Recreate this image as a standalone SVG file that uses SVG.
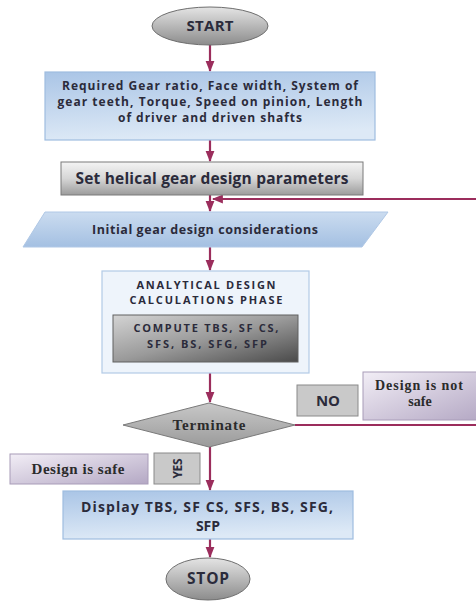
<svg xmlns="http://www.w3.org/2000/svg" width="476" height="602" viewBox="0 0 476 602">
<defs>
<linearGradient id="gBlue" x1="0" y1="0" x2="0.2" y2="1"><stop offset="0" stop-color="#aac5e6"/><stop offset="1" stop-color="#dde9f6"/></linearGradient>
<linearGradient id="gPara" x1="0" y1="0" x2="0" y2="1"><stop offset="0" stop-color="#cbdcf0"/><stop offset="1" stop-color="#a4c0e2"/></linearGradient>
<linearGradient id="gGray" x1="0" y1="0" x2="0" y2="1"><stop offset="0" stop-color="#f4f4f4"/><stop offset="0.5" stop-color="#d6d6d6"/><stop offset="1" stop-color="#9c9c9c"/></linearGradient>
<linearGradient id="gDark" x1="0" y1="0" x2="1" y2="1"><stop offset="0" stop-color="#d4d4d4"/><stop offset="0.5" stop-color="#9a9a9a"/><stop offset="1" stop-color="#4a4a4a"/></linearGradient>
<linearGradient id="gOval" x1="0" y1="0" x2="0" y2="1"><stop offset="0" stop-color="#e4e4e4"/><stop offset="1" stop-color="#8c8c8c"/></linearGradient>
<linearGradient id="gLav" x1="0" y1="0" x2="1" y2="1"><stop offset="0" stop-color="#f2eef6"/><stop offset="1" stop-color="#b4a8c4"/></linearGradient>
<linearGradient id="gDia" x1="0" y1="0" x2="0" y2="1"><stop offset="0" stop-color="#c8c8c8"/><stop offset="1" stop-color="#9a9a9a"/></linearGradient>
<marker id="ah" viewBox="0 0 10 10" refX="9" refY="5" markerWidth="5" markerHeight="5" orient="auto"><path d="M0,1 L10,5 L0,9 Z" fill="#9b2d5c"/></marker>
</defs>
<style>
.ln{stroke:#9b2d5c;stroke-width:2.2;fill:none}
.cal{font-family:"Open Sans","Liberation Sans",sans-serif;font-weight:700;fill:#2b2b3b;text-anchor:middle}
.ser{font-family:"Liberation Serif","DejaVu Serif",serif;font-weight:700;fill:#2b2b2b;text-anchor:middle}
</style>
<g id="connectors">
<line class="ln" x1="210" y1="45" x2="210" y2="71" marker-end="url(#ah)"/>
<line class="ln" x1="210" y1="140" x2="210" y2="161" marker-end="url(#ah)"/>
<line class="ln" x1="210" y1="195" x2="210" y2="211" marker-end="url(#ah)"/>
<polyline class="ln" points="295,425 480,425 480,199 213,199" marker-end="url(#ah)"/>
<line class="ln" x1="210" y1="247" x2="210" y2="270" marker-end="url(#ah)"/>
<line class="ln" x1="210" y1="373" x2="210" y2="402" marker-end="url(#ah)"/>
<line class="ln" x1="210" y1="447" x2="210" y2="490" marker-end="url(#ah)"/>
<line class="ln" x1="210" y1="539" x2="210" y2="557" marker-end="url(#ah)"/>
</g>
<g id="start">
<ellipse cx="210" cy="26" rx="58" ry="19" fill="url(#gOval)" stroke="#6e6e6e" stroke-width="1"/>
<text class="cal" x="210" y="31" font-size="15" textLength="47">START</text>
</g>
<g id="inputs">
<rect x="45" y="72" width="330" height="68" fill="url(#gBlue)" stroke="#9fbde0" stroke-width="1.2"/>
<text class="cal" font-size="12"><tspan x="210" y="90" textLength="296">Required Gear ratio, Face width, System of</tspan><tspan x="210" y="106" textLength="305">gear teeth, Torque, Speed on pinion, Length</tspan><tspan x="210" y="122" textLength="184">of driver and driven shafts</tspan></text>
</g>
<g id="setparams">
<rect x="61" y="162" width="302" height="33" fill="url(#gGray)" stroke="#7a7a7a" stroke-width="1"/>
<text class="cal" x="212" y="184" font-size="15.5" font-weight="600" fill="#222" textLength="273">Set helical gear design parameters</text>
</g>
<g id="initial">
<polygon points="45,212 388,212 362,247 23,247" fill="url(#gPara)" stroke="#b0c8e6" stroke-width="1"/>
<text class="cal" x="205" y="234" font-size="12.5" textLength="226">Initial gear design considerations</text>
</g>
<g id="analytical">
<rect x="102" y="271" width="207" height="102" fill="#eef4fb" stroke="#b2cae6" stroke-width="1.2"/>
<text class="cal" font-size="11" fill="#3a3a44"><tspan x="206" y="289" textLength="139">ANALYTICAL DESIGN</tspan><tspan x="206" y="303.5" textLength="153">CALCULATIONS PHASE</tspan></text>
<g id="compute">
<rect x="113" y="315" width="185" height="47" fill="url(#gDark)" stroke="#606060" stroke-width="1"/>
<text class="cal" font-size="11" fill="#2a2a3a"><tspan x="206" y="332" textLength="145">COMPUTE TBS, SF CS,</tspan><tspan x="207" y="347.5" textLength="120">SFS, BS, SFG, SFP</tspan></text>
</g>
</g>
<g id="terminate">
<polygon points="209,403 295,425 209,447 123,425" fill="url(#gDia)" stroke="#7a7a7a" stroke-width="1"/>
<text class="ser" x="209" y="430" font-size="15" textLength="73">Terminate</text>
</g>
<g id="no">
<rect x="297" y="385" width="61" height="31" fill="#c9c9c9" stroke="#8a8a8a" stroke-width="1"/>
<text class="cal" x="328" y="406" font-size="15">NO</text>
</g>
<g id="notsafe">
<rect x="363" y="372" width="118" height="48" fill="url(#gLav)" stroke="#a89cb8" stroke-width="1"/>
<text class="ser" font-size="14"><tspan x="419" y="390" textLength="88">Design is not</tspan><tspan x="420" y="406">safe</tspan></text>
</g>
<g id="safe">
<rect x="10" y="454" width="138" height="30" fill="url(#gLav)" stroke="#a89cb8" stroke-width="1"/>
<text class="ser" x="78" y="474" font-size="15" textLength="93">Design is safe</text>
</g>
<g id="yes">
<rect x="154" y="453" width="46" height="31" fill="#c9c9c9" stroke="#8a8a8a" stroke-width="1"/>
<text class="cal" x="0" y="0" font-size="12" textLength="20" transform="translate(181.5,468.5) rotate(-90)">YES</text>
</g>
<g id="display">
<rect x="63" y="491" width="290" height="48" fill="url(#gBlue)" stroke="#9fbde0" stroke-width="1.2"/>
<text class="cal" font-size="14" font-weight="600" fill="#222"><tspan x="207" y="512" textLength="252">Display TBS, SF CS, SFS, BS, SFG,</tspan><tspan x="208" y="531">SFP</tspan></text>
</g>
<g id="stop">
<ellipse cx="208" cy="579" rx="42" ry="21" fill="url(#gOval)" stroke="#6e6e6e" stroke-width="1"/>
<text class="cal" x="208" y="584" font-size="15.5" textLength="42">STOP</text>
</g>
</svg>
